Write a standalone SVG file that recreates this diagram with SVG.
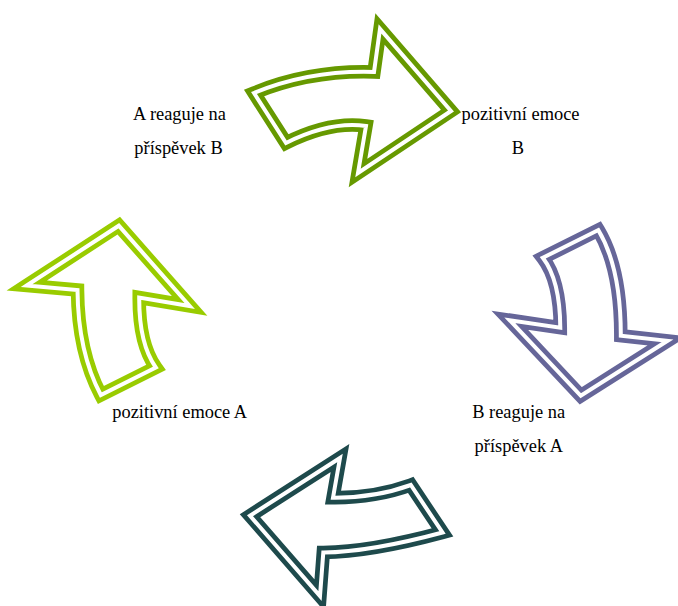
<svg xmlns="http://www.w3.org/2000/svg" width="678" height="606" viewBox="0 0 678 606">
  <style>
    .band { fill: #fff; stroke-width: 13.5; stroke-linejoin: miter; stroke-miterlimit: 10; }
    .gap { fill: none; stroke: #fff; stroke-width: 4; stroke-linejoin: miter; stroke-miterlimit: 10; }
    .label { font-family: 'Liberation Serif', 'Times New Roman', serif; font-size: 18.4px; fill: #000; text-anchor: middle; }
  </style>
  <defs>
    <!-- centre lines of the curved block arrows -->
    <path id="arrow-top" d="M254,93 Q310,70 374,72 L380,29 L451,111 L358,173 L366,126 Q330,121 286,143 Z"/>
    <path id="arrow-right" d="M542.8,257.8 L598.3,230 Q621,268 620.8,335.8 L667.5,340.8 L580.8,395.8 L509.7,320.2 L560.3,327.7 Q560,280 542.8,257.8 Z"/>
    <path id="arrow-bottom" d="M340,458 L333,497.7 Q375,498 410.8,485 L442.5,532.5 Q370,552 323.3,552.5 L320,596 L250,515.7 Z"/>
    <path id="arrow-left" d="M26.7,285.5 L118.8,225.7 L189.7,306 L139.2,297.5 Q139,344 155.8,367.5 L100.8,395 Q78,352 77.5,290 Z"/>
  </defs>
  <rect width="678" height="606" fill="#fff"/>

  <g id="connectors">
    <g id="arrow-a-to-b">
      <use href="#arrow-top" class="band" stroke="#669900"/>
      <use href="#arrow-top" class="gap"/>
    </g>
    <g id="arrow-b-react">
      <use href="#arrow-right" class="band" stroke="#666699"/>
      <use href="#arrow-right" class="gap"/>
    </g>
    <g id="arrow-b-to-a">
      <use href="#arrow-bottom" class="band" stroke="#1E4A4C"/>
      <use href="#arrow-bottom" class="gap"/>
    </g>
    <g id="arrow-a-react">
      <use href="#arrow-left" class="band" stroke="#99CC00"/>
      <use href="#arrow-left" class="gap"/>
    </g>
  </g>

  <g font-family="Liberation Serif, Times New Roman, serif">
    <g id="node-a-reacts">
      <text class="label" x="179.5" y="120">A reaguje na</text>
      <text class="label" x="178.5" y="154">příspěvek B</text>
    </g>
    <g id="node-positive-b">
      <text class="label" x="520.5" y="120">pozitivní emoce</text>
      <text class="label" x="518" y="154">B</text>
    </g>
    <g id="node-b-reacts">
      <text class="label" x="518.7" y="418">B reaguje na</text>
      <text class="label" x="518.8" y="452">příspěvek A</text>
    </g>
    <g id="node-positive-a">
      <text class="label" x="179.7" y="418">pozitivní emoce A</text>
    </g>
  </g>
</svg>
